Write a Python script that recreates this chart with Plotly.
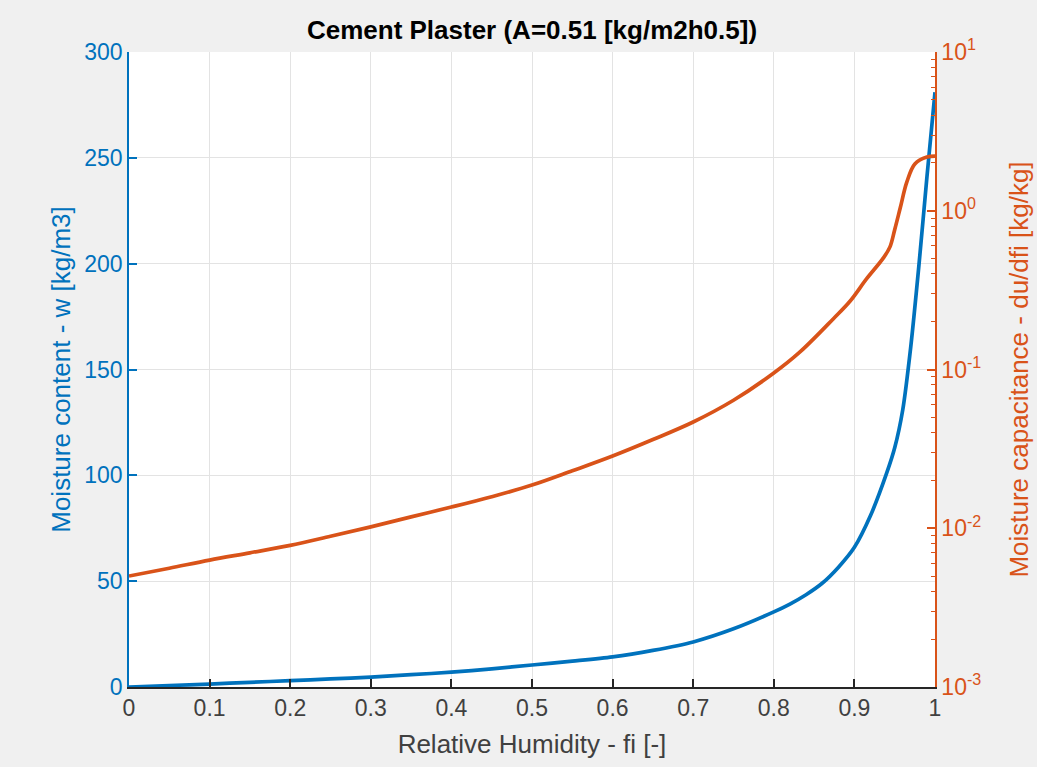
import plotly.graph_objects as go

# Moisture content w [kg/m3] vs relative humidity
phi_w = [0, 0.05, 0.1, 0.15, 0.2, 0.25, 0.3, 0.35, 0.4, 0.45, 0.5, 0.55, 0.6, 0.65, 0.7,
         0.75, 0.8, 0.82, 0.84, 0.86, 0.88, 0.9, 0.92, 0.94, 0.95, 0.96, 0.97, 0.98, 0.99, 1.0]
w_vals = [0, 0.7, 1.4, 2.2, 3.0, 3.8, 4.7, 5.8, 7.0, 8.6, 10.4, 12.2, 14.2, 17.3, 21.3,
          27.5, 35.5, 39.2, 43.6, 49.0, 56.5, 66.0, 81.0, 101.0, 113.0, 131.0, 161.0, 199.0, 241.0, 281.0]

# Moisture capacitance du/dfi [kg/kg]
phi_c = [0, 0.05, 0.1, 0.15, 0.2, 0.25, 0.3, 0.35, 0.4, 0.45, 0.5, 0.55, 0.6, 0.65, 0.7,
         0.75, 0.8, 0.8325, 0.874, 0.8945, 0.915, 0.936, 0.944, 0.95, 0.957, 0.965, 0.975, 0.99, 1.0]
c_vals = [0.0050, 0.0056, 0.0063, 0.0070, 0.0078, 0.0089, 0.0102, 0.0118, 0.0136, 0.0158, 0.0187,
          0.0230, 0.0285, 0.0362, 0.0467, 0.064, 0.095, 0.129, 0.209, 0.269, 0.372, 0.505, 0.59,
          0.76, 1.047, 1.514, 1.972, 2.178, 2.208]

x_ticks = [0, 0.1, 0.2, 0.3, 0.4, 0.5, 0.6, 0.7, 0.8, 0.9, 1]
y_ticks = [0, 50, 100, 150, 200, 250, 300]
y2_ticks = [0.001, 0.01, 0.1, 1, 10]
y2_labels = ["10<sup>-3</sup>", "10<sup>-2</sup>", "10<sup>-1</sup>", "10<sup>0</sup>", "10<sup>1</sup>"]
y2_minor = [m * d for d in [0.001, 0.01, 0.1, 1] for m in range(2, 10)]

BLUE = "#0072BD"
ORANGE = "#D95319"
DARK = "#262626"
FONT = "Liberation Sans, Arial, sans-serif"

fig = go.Figure()
fig.add_trace(go.Scatter(x=phi_w, y=w_vals, mode="lines",
                         line=dict(color=BLUE, width=3.7, shape="spline", smoothing=0.8),
                         yaxis="y", showlegend=False))
fig.add_trace(go.Scatter(x=phi_c, y=c_vals, mode="lines",
                         line=dict(color=ORANGE, width=3.7, shape="spline", smoothing=1.0),
                         yaxis="y2", showlegend=False))

fig.update_layout(
    template="none",
    width=1037, height=767,
    margin=dict(l=129, r=102, t=52, b=80, autoexpand=False),
    paper_bgcolor="#f0f0f0",
    plot_bgcolor="white",
    font=dict(family=FONT, size=23, color=DARK),
    title=dict(text="<b>Cement Plaster (A=0.51 [kg/m2h0.5])</b>", x=0.5, xref="paper", xanchor="center",
               y=1 - 30 / 767, yref="container", yanchor="middle",
               font=dict(family=FONT, size=26, color="black")),
    xaxis=dict(range=[0, 1], tickvals=x_ticks, ticktext=[str(v) for v in x_ticks], automargin=False,
               showgrid=True, gridcolor="#e3e3e3", gridwidth=1,
               showline=True, linecolor=DARK, linewidth=1.5,
               ticks="inside", ticklen=8, tickcolor=DARK, tickwidth=1.5,
               tickfont=dict(size=23, color="#404040"), zeroline=False,
               title=dict(text="Relative Humidity - fi [-]", font=dict(size=26, color="#404040"), standoff=14)),
    yaxis=dict(range=[0, 300], tickvals=y_ticks, automargin=False,
               showgrid=True, gridcolor="#e3e3e3", gridwidth=1,
               showline=True, linecolor=BLUE, linewidth=1.5,
               ticks="inside", ticklen=8, tickcolor=BLUE, tickwidth=1.5,
               tickfont=dict(size=23, color=BLUE), zeroline=False,
               title=dict(text="Moisture content - w [kg/m3]", font=dict(size=26, color=BLUE), standoff=6)),
    yaxis2=dict(type="log", range=[-3, 1], tickvals=y2_ticks, ticktext=y2_labels,
                overlaying="y", side="right", automargin=False,
                showgrid=False, showline=True, linecolor=ORANGE, linewidth=1.5,
                ticks="inside", ticklen=8, tickcolor=ORANGE, tickwidth=1.5,
                minor=dict(tickvals=y2_minor, ticks="inside", ticklen=4, tickcolor=ORANGE,
                           tickwidth=1, showgrid=False),
                tickfont=dict(size=23, color=ORANGE), zeroline=False,
                title=dict(text="Moisture capacitance - du/dfi [kg/kg]", font=dict(size=26, color=ORANGE), standoff=29)),
)

fig.write_html("out.html")
